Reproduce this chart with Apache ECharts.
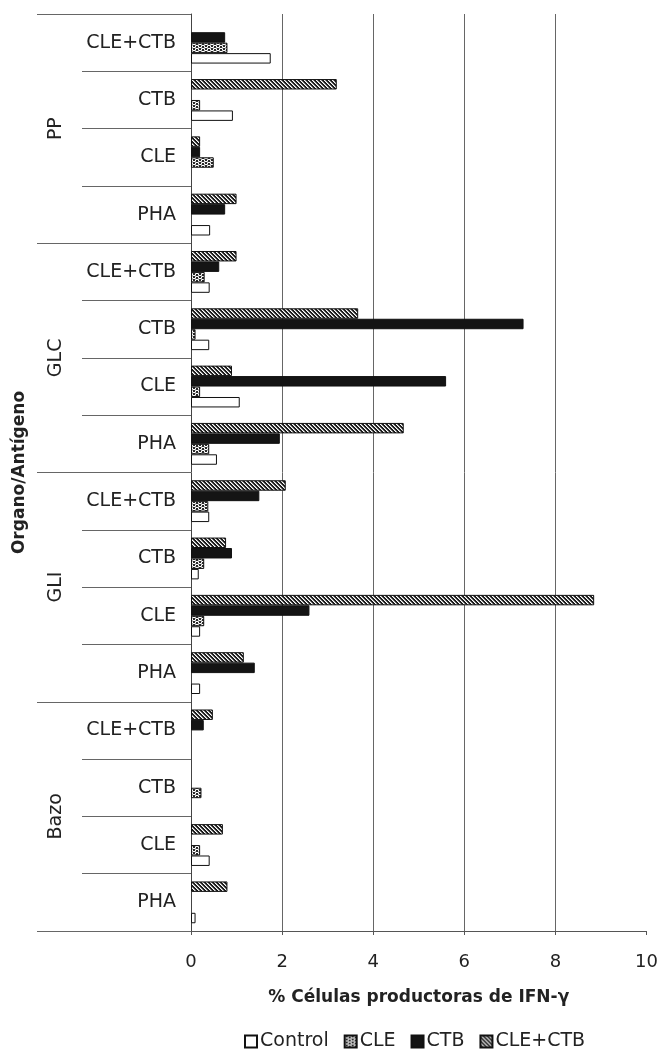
<!DOCTYPE html>
<html>
<head>
<meta charset="utf-8">
<script src="https://cdn.jsdelivr.net/npm/echarts@6/dist/echarts.min.js"></script>
<style>
html,body{margin:0;padding:0;background:#fff;}
#chart{width:661px;height:1057px;}
</style>
</head>
<body>
<div id="chart"></div>
<script>
// ---- data (top-to-bottom reading order) ----
const organs = ['PP', 'GLC', 'GLI', 'Bazo'];
const antigens = ['CLE+CTB', 'CTB', 'CLE', 'PHA'];
const seriesNames = ['Control', 'CLE', 'CTB', 'CLE+CTB'];
const xTicks = [0, 2, 4, 6, 8, 10];

// values per organ, in antigen order CLE+CTB, CTB, CLE, PHA
const controlVals = [
  1.75, 0.92, null, 0.42,
  0.41, 0.40, 1.07, 0.57,
  0.40, 0.17, 0.20, 0.20,
  null, null, 0.41, 0.10
];
const cleVals = [
  0.80, 0.20, 0.50, null,
  0.30, 0.10, 0.20, 0.40,
  0.38, 0.29, 0.29, null,
  null, 0.23, 0.20, null
];
const ctbVals = [
  0.75, null, 0.20, 0.75,
  0.62, 7.30, 5.60, 1.95,
  1.50, 0.90, 2.60, 1.40,
  0.28, null, null, null
];
const cleCtbVals = [
  null, 3.20, 0.20, 1.00,
  1.00, 3.67, 0.90, 4.67,
  2.08, 0.77, 8.85, 1.16,
  0.48, null, 0.70, 0.80
];

// ---- build ----
const catIds = [];
organs.forEach(o => antigens.forEach(a => catIds.push(o + '|' + a)));
const rev = arr => arr.slice().reverse();

function makePattern(w, h, bg, fgFn) {
  const c = document.createElement('canvas');
  c.width = w; c.height = h;
  const ctx = c.getContext('2d');
  ctx.fillStyle = bg; ctx.fillRect(0, 0, w, h);
  for (let y = 0; y < h; y++) for (let x = 0; x < w; x++) {
    const col = fgFn(x, y);
    if (col) { ctx.fillStyle = col; ctx.fillRect(x, y, 1, 1); }
  }
  return c;
}
const hatchCanvas = makePattern(4, 4, '#1c1c1c', (x, y) => {
  const m = ((x - y) % 4 + 4) % 4;
  return m === 0 ? '#ffffff' : (m === 1 ? '#9a9a9a' : null);
});
const waveY = [1, 2, 2, 1, 0, 0];
const waveCanvas = makePattern(6, 3, '#2a2a2a', (x, y) => {
  return waveY[x] === y ? '#ffffff' : (Math.abs(waveY[x] - y) === 1 && x % 3 === 0 ? '#bbbbbb' : null);
});

const hatchFill = { image: hatchCanvas, repeat: 'repeat' };
const waveFill = { image: waveCanvas, repeat: 'repeat' };

const FONT = 'DejaVu Sans';
const border = { borderColor: '#111', borderWidth: 1 };

const seriesDefs = [
  { name: 'CLE+CTB', data: cleCtbVals, color: hatchFill },
  { name: 'CTB', data: ctbVals, color: '#141414' },
  { name: 'CLE', data: cleVals, color: waveFill },
  { name: 'Control', data: controlVals, color: '#ffffff' }
];

const chart = echarts.init(document.getElementById('chart'), null, { renderer: 'canvas' });
chart.setOption({
  backgroundColor: '#ffffff',
  animation: false,
  textStyle: { fontFamily: FONT },
  grid: { left: 191, right: 12, top: 14, bottom: 126, containLabel: false },
  legend: {
    data: seriesNames,
    left: 239, top: 1027,
    itemWidth: 12, itemHeight: 12, itemGap: 15,
    icon: 'rect',
    textStyle: { fontFamily: FONT, fontSize: 19, color: '#222', padding: [0, 0, 0, -2] }
  },
  xAxis: {
    type: 'value', min: xTicks[0], max: xTicks[xTicks.length - 1], interval: 2,
    name: '% Células productoras de IFN-γ',
    nameLocation: 'middle', nameGap: 58,
    nameTextStyle: { fontFamily: FONT, fontSize: 17, fontWeight: 'bold', color: '#222' },
    axisLine: { show: true, lineStyle: { color: '#555', width: 1 } },
    axisTick: { show: true, length: 4, lineStyle: { color: '#555' } },
    axisLabel: { fontFamily: FONT, fontSize: 18, color: '#222', margin: 22 },
    splitLine: { show: true, showMinLine: false, showMaxLine: false, lineStyle: { color: '#666', width: 1 } }
  },
  yAxis: [
    {
      type: 'category', data: rev(catIds), position: 'left',
      name: 'Organo/Antígeno', nameLocation: 'middle', nameRotate: 90, nameGap: 163,
      nameTextStyle: { fontFamily: FONT, fontSize: 17, fontWeight: 'bold', color: '#222' },
      axisLine: { show: true, lineStyle: { color: '#444', width: 1 } },
      axisTick: { show: true, length: 109, lineStyle: { color: '#666', width: 1 } },
      axisLabel: { fontFamily: FONT, fontSize: 19, color: '#222', margin: 15,
        formatter: v => v.split('|')[1] },
      splitLine: { show: false }
    },
    {
      type: 'category', data: rev(organs), position: 'left',
      axisLine: { show: false },
      axisTick: { show: true, length: 154, lineStyle: { color: '#666', width: 1 } },
      axisLabel: { fontFamily: FONT, fontSize: 19, color: '#222', margin: 125, rotate: 90 },
      splitLine: { show: false }
    }
  ],
  series: seriesDefs.map(s => ({
    name: s.name, type: 'bar', yAxisIndex: 0,
    data: rev(s.data),
    barGap: '0%', barCategoryGap: '27%',
    itemStyle: Object.assign({ color: s.color }, border)
  }))
});
</script>
</body>
</html>
